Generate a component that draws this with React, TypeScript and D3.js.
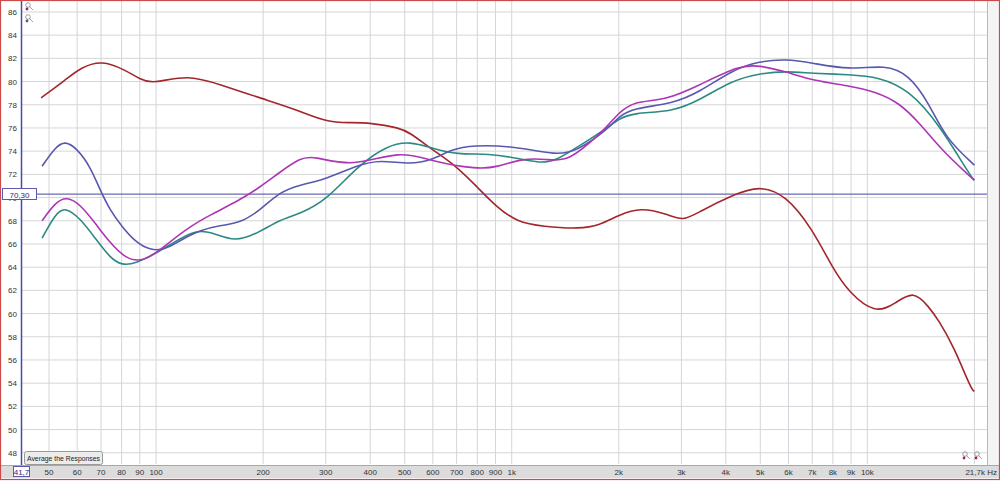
import React from "react";
import * as d3 from "d3";

const yTicks = [86, 84, 82, 80, 78, 76, 74, 72, 70, 68, 66, 64, 62, 60, 58, 56, 54, 52, 50, 48];
const gridFreqs = [50, 60, 70, 80, 90, 100, 200, 300, 400, 500, 600, 700, 800, 900, 1000, 2000, 3000, 4000, 5000, 6000, 7000, 8000, 9000, 10000, 20000];
const xTickFreqs = [50, 60, 70, 80, 90, 100, 200, 300, 400, 500, 600, 700, 800, 900, 1000, 2000, 3000, 4000, 5000, 6000, 7000, 8000, 9000, 10000];
const xTickLabels = ["50", "60", "70", "80", "90", "100", "200", "300", "400", "500", "600", "700", "800", "900", "1k", "2k", "3k", "4k", "5k", "6k", "7k", "8k", "9k", "10k"];
const refLevel = 70.3;

const redFreq = [47.5, 55.5, 61.2, 70.5, 81.8, 90.2, 97.4, 123, 151, 200, 250, 302, 350, 400, 485, 517, 600, 700, 800, 906, 1034, 1223, 1553, 1765, 2000, 2300, 2730, 3030, 3375, 4170, 4970, 5910, 7000, 7960, 8880, 10560, 12000, 13500, 14870, 15850, 17500, 19640, 20000];
const redDb = [78.6, 80.1, 81.2, 81.85, 81.0, 80.2, 79.8, 80.6, 79.75, 78.5, 77.55, 76.5, 76.45, 76.45, 76.0, 75.6, 74.1, 72.7, 70.9, 69.2, 67.9, 67.5, 67.3, 67.6, 68.5, 69.15, 68.6, 67.95, 68.8, 70.2, 71.05, 70.2, 67.3, 64.0, 61.8, 59.95, 60.9, 62.0, 60.6, 59.45, 57.15, 53.4, 53.3];

const magFreq = [47.8, 52.1, 56.2, 61.2, 67.4, 74.2, 81.8, 90.2, 100, 109.5, 124.6, 141.8, 172.2, 196, 223, 254, 276, 357, 485, 600, 800, 906, 1076, 1253, 1428, 1655, 1800, 2000, 2200, 2730, 3375, 4370, 4970, 5910, 7000, 9050, 10560, 12250, 13960, 16160, 19640, 20000];
const magDb = [68.0, 69.6, 70.1, 69.4, 67.8, 66.1, 64.8, 64.45, 65.2, 66.2, 67.5, 68.5, 69.8, 70.9, 72.2, 73.4, 73.6, 72.6, 74.1, 73.1, 72.45, 72.6, 73.4, 73.3, 73.1, 74.7, 75.7, 77.3, 78.3, 78.4, 79.7, 81.4, 81.4, 80.85, 80.1, 79.6, 79.1, 78.2, 76.5, 74.1, 71.7, 71.5];

const tealFreq = [47.8, 52.1, 55.5, 61.2, 67.4, 74.2, 80.2, 87.3, 100, 113, 128.7, 141.8, 166.7, 196, 223, 254, 302, 368, 446, 517, 600, 700, 866, 1034, 1200, 1338, 1553, 1800, 2000, 2200, 2840, 3375, 4170, 4970, 5910, 7000, 8880, 10770, 13080, 15850, 19640, 20000];
const tealDb = [66.5, 68.6, 69.2, 68.2, 66.5, 64.8, 64.15, 64.3, 65.2, 66.2, 67.15, 67.1, 66.1, 67.05, 68.1, 68.6, 69.8, 72.7, 74.5, 74.85, 74.25, 73.7, 73.8, 73.4, 72.95, 73.2, 74.5, 75.7, 76.8, 77.3, 77.4, 78.4, 80.1, 80.7, 80.9, 80.7, 80.6, 80.4, 79.3, 76.4, 71.7, 71.5];

const blueFreq = [47.8, 52.1, 55.5, 60, 65.2, 69.6, 74.2, 80.2, 87.3, 96.2, 106, 116.8, 132.9, 151.3, 172.2, 196, 223, 254, 295, 368, 426, 517, 600, 670, 777, 1034, 1338, 1523, 1850, 2000, 2200, 2840, 3375, 4170, 4970, 5910, 7000, 8880, 11260, 13080, 14870, 16590, 20000];
const blueDb = [72.7, 74.35, 74.9, 74.2, 72.7, 70.65, 68.9, 67.5, 66.2, 65.45, 65.5, 66.3, 67.2, 67.6, 67.8, 68.9, 70.5, 71.1, 71.5, 72.8, 73.25, 72.85, 73.25, 74.1, 74.55, 74.4, 73.65, 74.0, 75.8, 77.0, 77.7, 78.1, 79.1, 81.0, 81.75, 81.95, 81.6, 81.0, 81.45, 80.6, 78.2, 75.1, 72.8];

const series = [
  { name: "red", freq: redFreq, db: redDb, color: "#a3262a" },
  { name: "teal", freq: tealFreq, db: tealDb, color: "#2b8a82" },
  { name: "blue", freq: blueFreq, db: blueDb, color: "#5858ae" },
  { name: "magenta", freq: magFreq, db: magDb, color: "#ad35b5" },
];

const W = 1000;
const H = 482;
const plotL = 21;
const plotR = 987;
const plotT = 0;
const plotB = 464;

export default function App() {
  const x = d3.scaleLog().domain([41.7, 21700]).range([plotL, plotR]);
  const y = d3.scaleLinear().domain([47.12, 87.03]).range([463, 0]);
  const line = d3
    .line<[number, number]>()
    .x((d) => x(d[0]))
    .y((d) => y(d[1]))
    .curve(d3.curveBasis);

  const font = "'Liberation Sans', Arial, sans-serif";

  return (
    <div style={{ position: "fixed", left: 0, top: 0, width: W, height: H, background: "#fff" }}>
      <svg width={W} height={H} style={{ display: "block" }} fontFamily={font}>
        <defs>
          <clipPath id="clip">
            <rect x={plotL} y={plotT} width={plotR - plotL} height={plotB - plotT} />
          </clipPath>
        </defs>
        <rect x={0} y={0} width={W} height={H} fill="#ffffff" />
        <rect x={plotR} y={0} width={W - plotR} height={465} fill="#f4f4f4" />
        {/* horizontal grid */}
        {yTicks.map((t) => (
          <line key={"h" + t} x1={plotL} x2={plotR} y1={y(t)} y2={y(t)} stroke="#d6d6d6" strokeWidth={1} />
        ))}
        {/* vertical grid */}
        {gridFreqs.map((f) => (
          <line key={"v" + f} x1={x(f)} x2={x(f)} y1={plotT} y2={plotB} stroke="#d4d4dc" strokeWidth={1} />
        ))}
        <line x1={plotR + 0.5} x2={plotR + 0.5} y1={0} y2={465} stroke="#b8b8b8" strokeWidth={1} />
        {/* reference level line */}
        <line x1={plotL} x2={plotR} y1={y(refLevel)} y2={y(refLevel)} stroke="#6a6ab4" strokeWidth={1.3} />
        {/* curves */}
        <g clipPath="url(#clip)">
          {series.map((s) => {
            const pts: [number, number][] = s.freq.map((f, i) => [f, s.db[i]]);
            return <path key={s.name} d={line(pts) || ""} fill="none" stroke={s.color} strokeWidth={1.6} />;
          })}
        </g>
        {/* left axis line */}
        <line x1={plotL + 0.5} x2={plotL + 0.5} y1={0} y2={plotB + 2} stroke="#4a4aa8" strokeWidth={1.5} />
        {/* y tick labels */}
        {yTicks.map((t) => (
          <text key={"yl" + t} x={17} y={y(t) + 3} fontSize={8} fill="#333" textAnchor="end">
            {t}
          </text>
        ))}
        {/* ref level label */}
        <rect x={2.5} y={188.5} width={34} height={11} fill="#fff" stroke="#5a5ab0" strokeWidth={1} />
        <text x={19.5} y={197.5} fontSize={8} fill="#2a2a80" textAnchor="middle">70,30</text>
        {/* bottom axis band */}
        <rect x={0} y={465} width={W} height={13} fill="#dcdcdc" />
        <line x1={0} x2={W} y1={465.5} y2={465.5} stroke="#a8a8a8" strokeWidth={1} />
        {xTickFreqs.map((f, i) => (
          <text key={"xl" + f} x={x(f)} y={475} fontSize={8} fill="#333" textAnchor="middle">
            {xTickLabels[i]}
          </text>
        ))}
        <text x={997} y={475} fontSize={8} fill="#333" textAnchor="end">21,7k Hz</text>
        <rect x={13.5} y={466.5} width={16} height={10} fill="#fff" stroke="#5a5ab0" strokeWidth={1} />
        <text x={21.5} y={474.5} fontSize={8} fill="#2a2a80" textAnchor="middle">41,7</text>
        {/* Average button */}
        <rect x={24.5} y={451.5} width={78} height={13} rx={2} fill="#ececec" stroke="#9a9a9a" strokeWidth={1} />
        <text x={27} y={461} fontSize={7.5} fill="#222" textLength={73} lengthAdjust="spacingAndGlyphs">Average the Responses</text>
        {/* small zoom icons */}
        {[[26, 3], [26, 15], [963, 452], [975, 452]].map(([cx, cy], i) => (
          <g key={"ic" + i}>
            <circle cx={cx + 2} cy={cy + 2} r={2.3} fill="none" stroke="#888" strokeWidth={0.8} />
            <line x1={cx + 3.5} y1={cy + 3.5} x2={cx + 7} y2={cy + 7} stroke="#888" strokeWidth={0.8} />
            <circle cx={cx + 1} cy={cy + 6} r={1.4} fill={i === 1 ? "#555599" : "#a02060"} />
          </g>
        ))}
        {/* outer border */}
        <rect x={0.5} y={0.5} width={W - 1} height={479} fill="none" stroke="#cc4a4a" strokeWidth={1.2} />
      </svg>
    </div>
  );
}
